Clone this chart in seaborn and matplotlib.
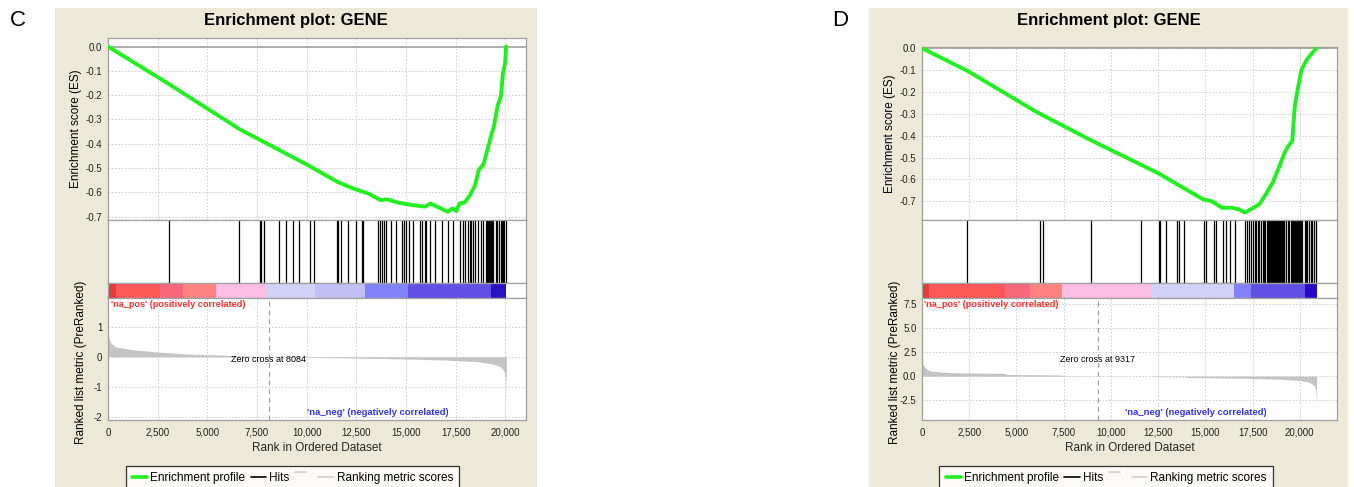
import numpy as np
import pandas as pd
import matplotlib
matplotlib.use("Agg")
import matplotlib.pyplot as plt
import seaborn as sns
from matplotlib.patches import Rectangle
from matplotlib.lines import Line2D
from matplotlib.legend_handler import HandlerBase
from matplotlib.ticker import FuncFormatter, FixedLocator

# ---------------- data: panel C ----------------
c_es_rank = [0, 2980, 6620, 10080, 11550, 12330, 13110, 13720, 14060, 14580, 15280, 15970,
             16230, 16660, 17100, 17350, 17530, 17700, 17960, 18220, 18480, 18650, 18910,
             19090, 19260, 19430, 19610, 19780, 19880, 19990, 20040]
c_es_val = [0.0, -0.150, -0.340, -0.489, -0.557, -0.584, -0.605, -0.632, -0.629, -0.642, -0.652,
            -0.659, -0.646, -0.663, -0.680, -0.666, -0.677, -0.646, -0.641, -0.612, -0.571,
            -0.510, -0.483, -0.428, -0.374, -0.326, -0.245, -0.204, -0.109, -0.068, 0.0]
c_hits = [3094, 6584, 7664, 7714, 7832, 8624, 8979, 9299, 9619, 10149, 10383, 11518, 11602,
          11719, 12070, 12470, 12771, 12855, 13573, 13673, 13773, 13873, 13973, 14241, 14491,
          14792, 14892, 14992, 15142, 15360, 15710, 15810, 15944, 16028, 16195, 16478, 16812,
          17113, 17363, 17730, 17864, 17981, 18115, 18200, 18282, 18366, 18449, 18616, 18750,
          18867, 19034, 19080, 19117, 19160, 19201, 19240, 19284, 19330, 19368, 19535, 19600,
          19702, 19760, 19818, 19880, 19952, 20010]
c_metric_rank = [0, 50, 150, 380, 800, 1420, 2630, 4020, 5750, 8084, 10000, 11800, 13500,
                 15276, 17000, 18740, 19430, 19780, 19950, 20000, 20030, 20045, 20050]
c_metric_val = [0.82, 0.60, 0.45, 0.33, 0.28, 0.22, 0.15, 0.09, 0.055, 0.0, -0.02, -0.035,
                -0.055, -0.08, -0.11, -0.17, -0.25, -0.34, -0.50, -0.65, -0.85, -1.20, -1.92]
c_bar_edges = [0, 380, 2630, 3760, 5440, 7970, 10420, 12940, 15100, 19260, 20040]
c_bar_colors = ["#e53a3e", "#ff5656", "#f7687c", "#ff8282", "#fbbde4", "#d2d2f8",
                "#c2bff5", "#8282fb", "#6150e4", "#2a12c0"]
c_zero_cross = 8084
c_xmax = 21040
c_es_ylim = (-0.714, 0.035)
c_es_ticks = [0.0, -0.1, -0.2, -0.3, -0.4, -0.5, -0.6, -0.7]
c_m_ylim = (-2.1, 1.95)
c_m_ticks = [1, 0, -1, -2]

# ---------------- data: panel D ----------------
d_es_rank = [0, 2450, 6030, 8900, 12480, 14890, 15340, 15880, 16410, 16770, 17100, 17400,
             17850, 18200, 18560, 18920, 19190, 19370, 19600, 19730, 19850, 20080, 20350,
             20620, 20890]
d_es_val = [0.0, -0.106, -0.290, -0.419, -0.570, -0.691, -0.699, -0.729, -0.729, -0.736,
            -0.751, -0.736, -0.714, -0.668, -0.615, -0.540, -0.479, -0.449, -0.426, -0.268,
            -0.207, -0.101, -0.056, -0.026, 0.0]
d_hits = [2400, 6250, 6390, 8930, 11612, 12538, 12626, 12923, 13499, 13587, 13884, 14932,
          15019, 15473, 15561, 15945, 16120, 16294, 16556, 17081, 17203, 17308, 17430, 17520,
          17605, 17692, 17780, 17867, 17950, 18042, 18110, 18181, 18240, 18303, 18350, 18391,
          18440, 18490, 18540, 18590, 18640, 18690, 18740, 18790, 18840, 18890, 18940, 18990,
          19040, 19090, 19140, 19177, 19264, 19350, 19439, 19526, 19575, 19625, 19675, 19725,
          19775, 19825, 19875, 19925, 19975, 20025, 20075, 20138, 20278, 20340, 20400, 20487,
          20575, 20662, 20749, 20837]
d_metric_rank = [0, 60, 150, 400, 1000, 2000, 4400, 4450, 7400, 7450, 9317, 12150, 12200,
                 14000, 14050, 17000, 19000, 20000, 20500, 20750, 20850, 20880, 20890]
d_metric_val = [1.5, 1.2, 0.9, 0.55, 0.42, 0.33, 0.28, 0.17, 0.12, 0.05, 0.0, 0.0, -0.05,
                -0.08, -0.15, -0.22, -0.32, -0.45, -0.65, -0.95, -1.4, -2.5, -4.05]
d_bar_edges = [0, 394, 4386, 5728, 7411, 12154, 16504, 17399, 20299, 20890]
d_bar_colors = ["#e53a3e", "#ff5656", "#f7687c", "#ff8282", "#fbbde4", "#d2d2f8",
                "#8282fb", "#6150e4", "#2a08c8"]
d_zero_cross = 9317
d_xmax = 21970
d_es_ylim = (-0.785, 0.005)
d_es_ticks = [0.0, -0.1, -0.2, -0.3, -0.4, -0.5, -0.6, -0.7]
d_m_ylim = (-4.55, 8.1)
d_m_ticks = [7.5, 5.0, 2.5, 0.0, -2.5]

x_ticks = [0, 2500, 5000, 7500, 10000, 12500, 15000, 17500, 20000]
panel_letters = ["C", "D"]
title_text = "Enrichment plot: GENE"
legend_labels = ["Enrichment profile", "Hits", "", "Ranking metric scores"]

# ---------------- style ----------------
sns.set_style("white")
plt.rcParams["font.family"] = ["Liberation Sans", "DejaVu Sans"]
plt.rcParams["axes.unicode_minus"] = False
plt.rcParams["text.color"] = "black"
plt.rcParams["xtick.color"] = "#222222"
plt.rcParams["ytick.color"] = "#222222"

W, H = 1354, 487
fig = plt.figure(figsize=(W / 100, H / 100), dpi=100)
fig.patch.set_facecolor("white")

BEIGE = "#ece9d8"
GRID = "#c8c8c8"
SPINE = "#a0a0a0"


class RaisedHandler(HandlerBase):
    """Short line drawn near the top of the legend row (area-series icon)."""
    def create_artists(self, legend, orig_handle, xdescent, ydescent, width, height,
                       fontsize, trans):
        ln = Line2D([0.05 * width, 0.75 * width], [height * 1.05] * 2,
                    color=orig_handle.get_color(), lw=orig_handle.get_linewidth(),
                    transform=trans)
        return [ln]


def rect(x0, y0, x1, y1):
    return [x0 / W, 1 - y1 / H, (x1 - x0) / W, (y1 - y0) / H]


def style_axes(ax):
    for s in ax.spines.values():
        s.set_color(SPINE)
        s.set_linewidth(0.9)
    ax.set_facecolor("white")


def comma(v, pos):
    return f"{int(v):,}"


panels = [
    dict(letter=panel_letters[0], lx=18, bl=55, br=537, ax0=108, ax1=526, es_top=38,
         es_rank=c_es_rank, es_val=c_es_val, hits=c_hits, m_rank=c_metric_rank,
         m_val=c_metric_val, bar_edges=c_bar_edges, bar_colors=c_bar_colors,
         zc=c_zero_cross, xmax=c_xmax, es_ylim=c_es_ylim, es_ticks=c_es_ticks,
         m_ylim=c_m_ylim, m_ticks=c_m_ticks, m_fmt="{:.0f}", lg=(128, 457), neg=0.815),
    dict(letter=panel_letters[1], lx=840, bl=869, br=1348, ax0=922, ax1=1337, es_top=47,
         es_rank=d_es_rank, es_val=d_es_val, hits=d_hits, m_rank=d_metric_rank,
         m_val=d_metric_val, bar_edges=d_bar_edges, bar_colors=d_bar_colors,
         zc=d_zero_cross, xmax=d_xmax, es_ylim=d_es_ylim, es_ticks=d_es_ticks,
         m_ylim=d_m_ylim, m_ticks=d_m_ticks, m_fmt="{:.1f}", lg=(942, 1270), neg=0.83),
]

for p in panels:
    # beige panel background (behind the axes)
    fig.patches.append(Rectangle((p["bl"] / W, 0), (p["br"] - p["bl"]) / W, 1 - 8 / H,
                                 transform=fig.transFigure, facecolor=BEIGE,
                                 edgecolor="none", zorder=-5))
    fig.text(p["lx"] / W, 1 - 20 / H, p["letter"], fontsize=16, ha="center", va="center",
             family=["Liberation Sans Narrow", "Liberation Sans", "DejaVu Sans"])
    cx = (p["bl"] + p["br"]) / 2
    fig.text(cx / W, 1 - 20 / H, title_text, fontsize=12, fontweight="bold",
             ha="center", va="center")

    x0, x1 = p["ax0"], p["ax1"]
    # --- ES axes ---
    ax_es = fig.add_axes(rect(x0, p["es_top"], x1, 220))
    style_axes(ax_es)
    df = pd.DataFrame({"rank": p["es_rank"], "es": p["es_val"]})
    sns.lineplot(data=df, x="rank", y="es", ax=ax_es, color="#22ee22", lw=2.8,
                 sort=False, zorder=3)
    ax_es.axhline(0, color="#a8a8a8", lw=1.3, zorder=2)
    ax_es.set_xlim(0, p["xmax"])
    ax_es.set_ylim(*p["es_ylim"])
    ax_es.xaxis.set_major_locator(FixedLocator(x_ticks))
    ax_es.yaxis.set_major_locator(FixedLocator(p["es_ticks"]))
    ax_es.yaxis.set_major_formatter(FuncFormatter(lambda v, pos: f"{v:.1f}"))
    ax_es.tick_params(axis="x", length=0, labelbottom=False)
    ax_es.tick_params(axis="y", length=2, color=SPINE, labelsize=7, pad=2)
    ax_es.grid(True, color=GRID, ls=(0, (2, 2)), lw=0.6)
    ax_es.set_xlabel("")
    ax_es.set_ylabel("")

    # --- hits axes ---
    ax_h = fig.add_axes(rect(x0, 220, x1, 283))
    style_axes(ax_h)
    ax_h.vlines(p["hits"], 0, 1, color="black", lw=0.9)
    ax_h.set_xlim(0, p["xmax"])
    ax_h.set_ylim(0, 1)
    ax_h.set_xticks([])
    ax_h.set_yticks([])

    # --- colour bar axes ---
    ax_c = fig.add_axes(rect(x0, 283, x1, 298))
    style_axes(ax_c)
    edges = p["bar_edges"]
    ax_c.bar(edges[:-1], [1] * (len(edges) - 1), width=np.diff(edges), align="edge",
             color=p["bar_colors"], edgecolor="none")
    ax_c.set_xlim(0, p["xmax"])
    ax_c.set_ylim(0, 1)
    ax_c.set_xticks([])
    ax_c.set_yticks([])

    # --- ranked metric axes ---
    ax_m = fig.add_axes(rect(x0, 298, x1, 420))
    style_axes(ax_m)
    ax_m.fill_between(p["m_rank"], 0, p["m_val"], color="#c4c4c4", lw=0, zorder=2)
    ax_m.axvline(p["zc"], color="#a0a0a0", lw=0.9, ls=(0, (4, 3)), zorder=1)
    ax_m.set_xlim(0, p["xmax"])
    ax_m.set_ylim(*p["m_ylim"])
    ax_m.xaxis.set_major_locator(FixedLocator(x_ticks))
    ax_m.xaxis.set_major_formatter(FuncFormatter(comma))
    ax_m.yaxis.set_major_locator(FixedLocator(p["m_ticks"]))
    fmt = p["m_fmt"]
    ax_m.yaxis.set_major_formatter(FuncFormatter(lambda v, pos, f=fmt: f.format(v)))
    ax_m.tick_params(axis="y", length=2, color=SPINE, labelsize=7, pad=2)
    ax_m.tick_params(axis="x", length=2, color=SPINE, labelsize=7, pad=3.5)
    ax_m.grid(True, color=GRID, ls=(0, (2, 2)), lw=0.6)
    ax_m.text(0.006, 0.95, "'na_pos' (positively correlated)", transform=ax_m.transAxes,
              color="#f03030", fontsize=6.6, fontweight="bold", ha="left", va="center")
    ax_m.text(p["neg"], 0.06, "'na_neg' (negatively correlated)", transform=ax_m.transAxes,
              color="#3434e0", fontsize=6.8, fontweight="bold", ha="right", va="center")
    ax_m.text(p["zc"], 0.5, f"Zero cross at {p['zc']}",
              transform=ax_m.get_xaxis_transform(), fontsize=6.5, ha="center",
              va="center", zorder=4)
    ax_m.set_xlabel("Rank in Ordered Dataset", fontsize=8.5, labelpad=3)

    # y labels
    fig.text((x0 - 32) / W, 1 - (p["es_top"] + 220) / 2 / H, "Enrichment score (ES)",
             rotation=90, fontsize=8.5, ha="center", va="center")
    fig.text((x0 - 27) / W, 1 - 362 / H, "Ranked list metric (PreRanked)",
             rotation=90, fontsize=8.5, ha="center", va="center")

    # legend
    blip = Line2D([], [], color="#d0d0d0", lw=1.2)
    handles = [Line2D([], [], color="#22ee22", lw=2.6),
               Line2D([], [], color="black", lw=1.2),
               blip,
               Line2D([], [], color="#d0d0d0", lw=1.2)]
    lx0, lx1 = p["lg"]
    leg = fig.legend(handles, legend_labels, loc="center",
                     bbox_to_anchor=((lx0 + lx1) / 2 / W, 1 - 478 / H), ncol=4,
                     fontsize=8.5, frameon=True, fancybox=False, handlelength=1.3,
                     handletextpad=0.25, columnspacing=0.45, borderpad=0.55,
                     handler_map={blip: RaisedHandler()})
    leg.get_frame().set_edgecolor("black")
    leg.get_frame().set_linewidth(0.9)

fig.savefig("out.png", dpi=100, facecolor="white")
